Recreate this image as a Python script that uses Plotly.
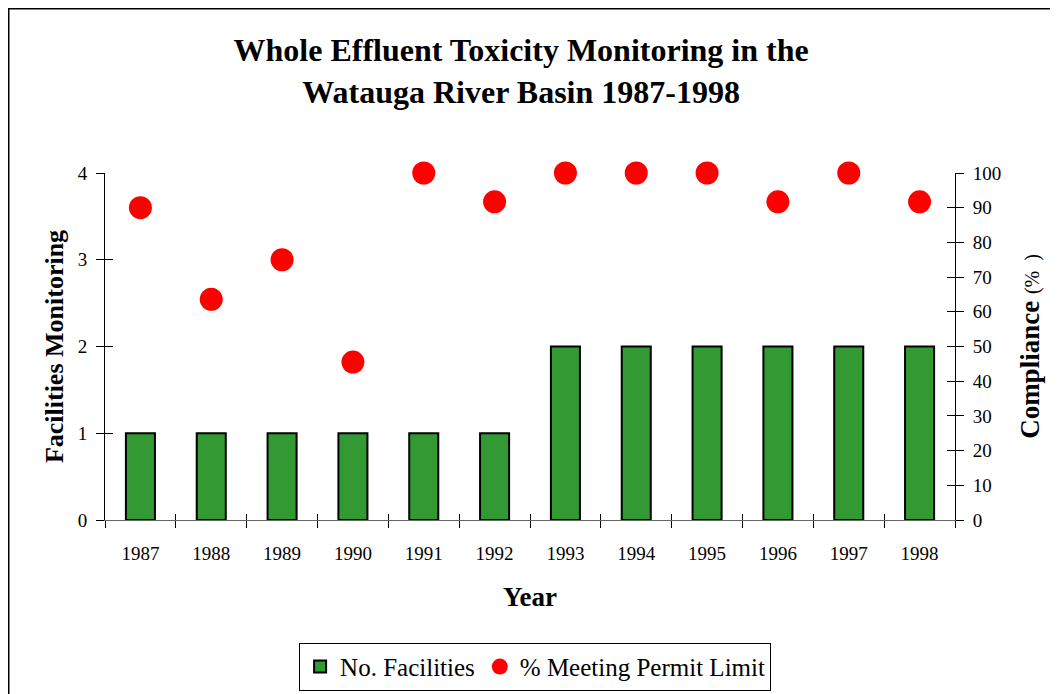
import plotly.graph_objects as go

years = ["1987", "1988", "1989", "1990", "1991", "1992", "1993", "1994", "1995", "1996", "1997", "1998"]
facilities = [1, 1, 1, 1, 1, 1, 2, 2, 2, 2, 2, 2]
compliance = [90, 63.6, 75, 45.5, 100, 91.7, 100, 100, 100, 91.7, 100, 91.7]

FONT = "Liberation Serif, Times New Roman, serif"

L, T, PW, PH = 97, 165, 850, 347
W, H = 1058, 694

fig = go.Figure()
fig.add_trace(go.Bar(
    x=years, y=facilities, name="No. Facilities", width=0.41,
    marker=dict(color="#339933", line=dict(color="black", width=2)),
    yaxis="y",
))
fig.add_trace(go.Scatter(
    x=years, y=compliance, name="% Meeting Permit Limit", mode="markers",
    marker=dict(color="#ff0000", size=23),
    yaxis="y2", cliponaxis=False,
))
# invisible helper traces so the inner-tick axes are drawn
fig.add_trace(go.Scatter(x=years, y=[None] * len(years), xaxis="x2", yaxis="y3",
                         showlegend=False, hoverinfo="skip", mode="markers"))
fig.add_trace(go.Scatter(x=years, y=[None] * len(years), xaxis="x2", yaxis="y4",
                         showlegend=False, hoverinfo="skip", mode="markers"))

fig.update_layout(
    width=W, height=H,
    margin=dict(l=L, r=W - L - PW, t=T, b=H - T - PH, autoexpand=False),
    paper_bgcolor="white", plot_bgcolor="white",
    font=dict(family=FONT, size=19, color="black"),
    title=dict(
        text="<b>Whole Effluent Toxicity Monitoring in the<br>Watauga River Basin 1987-1998</b>",
        x=0.485, xanchor="center", y=0.923, yanchor="top",
        font=dict(family=FONT, size=32, color="black"),
    ),
    xaxis=dict(
        type="category", range=[-0.5, 11.5], showline=True, linecolor="#666", linewidth=1,
        ticks="outside", tickson="boundaries", ticklen=7, tickcolor="black",
        tickfont=dict(size=19), showgrid=False, ticklabelstandoff=16,
        title=dict(text="<b>Year</b>", font=dict(size=27), standoff=24),
    ),
    xaxis2=dict(
        type="category", range=[-0.5, 11.5], overlaying="x", side="bottom",
        showline=False, ticks="inside", tickson="boundaries", ticklen=6, tickcolor="black",
        showticklabels=False, showgrid=False,
    ),
    yaxis=dict(
        range=[0, 4], tickvals=[0, 1, 2, 3, 4], showline=True, linecolor="black", linewidth=1,
        ticks="outside", ticklen=8, tickcolor="black", showgrid=False, zeroline=False,
        tickfont=dict(size=19), ticklabelstandoff=5,
        title=dict(text="<b>Facilities Monitoring</b>", font=dict(size=26), standoff=6),
    ),
    yaxis2=dict(
        range=[0, 100], tickvals=list(range(0, 101, 10)), overlaying="y", side="right",
        showline=True, linecolor="black", linewidth=1,
        ticks="outside", ticklen=8, tickcolor="black", showgrid=False, zeroline=False,
        tickfont=dict(size=19), ticklabelstandoff=5,
        title=dict(text="<b>Compliance</b> <span style='font-size:20px'>(%  )</span>",
                   font=dict(size=27), standoff=19),
    ),
    yaxis3=dict(
        range=[0, 4], tickvals=[0, 1, 2, 3, 4], overlaying="y", side="left",
        showline=False, ticks="inside", ticklen=8, tickcolor="black",
        showticklabels=False, showgrid=False, zeroline=False,
    ),
    yaxis4=dict(
        range=[0, 100], tickvals=list(range(0, 101, 10)), overlaying="y", side="right",
        showline=False, ticks="inside", ticklen=8, tickcolor="black",
        showticklabels=False, showgrid=False, zeroline=False,
    ),
    legend=dict(
        orientation="h", x=0.506, xanchor="center", y=-0.354, yanchor="top",
        bordercolor="black", borderwidth=1, font=dict(size=25),
        itemsizing="trace", tracegroupgap=0,
    ),
    shapes=[dict(type="rect", xref="paper", yref="paper",
                 x0=(0.75 - L) / PW, x1=1.3, y0=-0.7, y1=1 + (T - 0.75) / PH,
                 line=dict(color="black", width=1.5), fillcolor="rgba(0,0,0,0)")],
)

fig.write_html("out.html")
